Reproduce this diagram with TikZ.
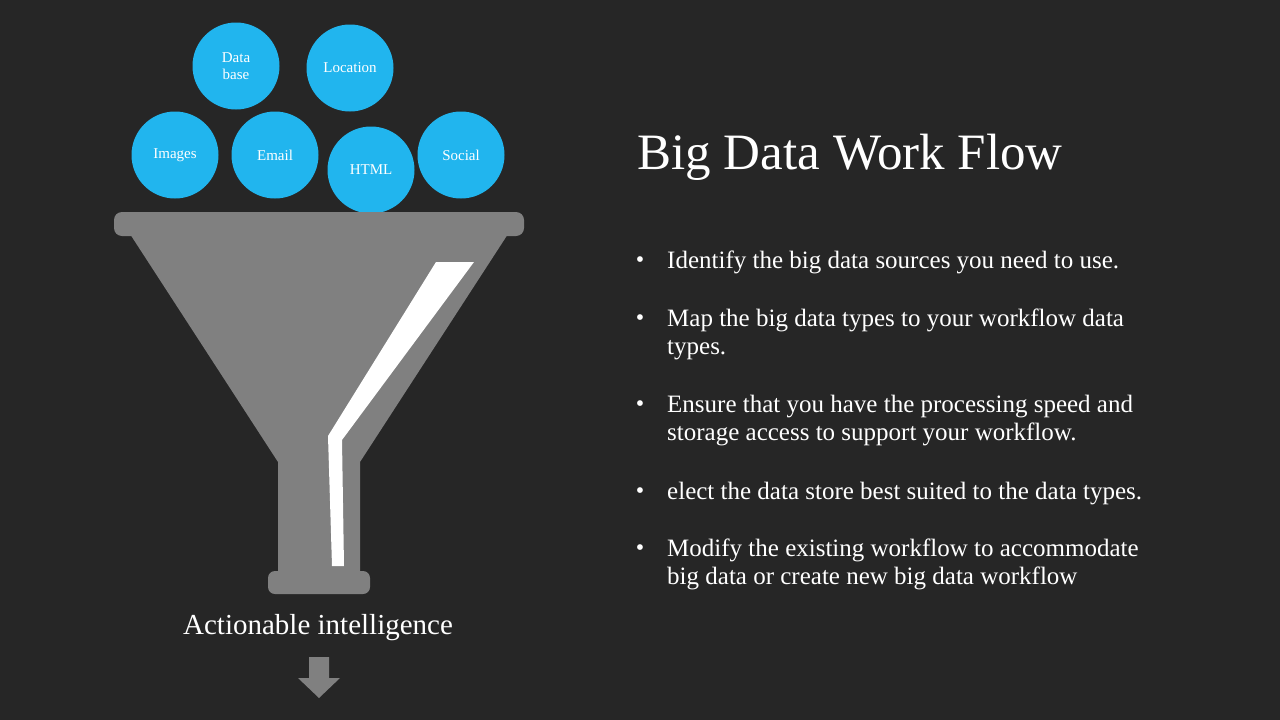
\documentclass[tikz,border=0pt]{standalone}
\usepackage{fontspec}
\setmainfont{Liberation Serif}
\usetikzlibrary{positioning}
\definecolor{bgdark}{HTML}{262626}
\definecolor{srcblue}{HTML}{21B5EE}
\definecolor{funnelgray}{HTML}{808080}
\begin{document}
\begin{tikzpicture}[x=1pt,y=-1pt,
    source/.style={circle, fill=srcblue, minimum size=87pt, inner sep=0pt,
        text=white, align=center, font=\fontsize{15}{17}\selectfont},
    point/.style={text=white, text width=500pt, align=flush left, anchor=north west,
        inner sep=0pt, font=\fontsize{25}{28}\selectfont},
    dotmark/.style={text=white, anchor=north, inner sep=0pt, font=\fontsize{24}{28}\selectfont}
]
% Background
\fill[bgdark] (0,0) rectangle (1280,720);
\useasboundingbox (0,0) rectangle (1280,720);

% Sources
\node[source] (database) at (236,66) {Data\\base};
\node[source] (location) at (350,68) {Location};
\node[source] (images) at (175,155) {Images};
\node[source] (email) at (275,155) {Email};
\node[source] (html) at (371,170) {HTML};
\node[source] (social) at (461,155) {Social};

% Funnel
\fill[funnelgray, rounded corners=8pt] (114,212) rectangle (524,236);
\fill[funnelgray] (130,234) -- (508,234) -- (360,462) -- (360,574) -- (278,574) -- (278,462) -- cycle;
\fill[funnelgray, rounded corners=7pt] (268,571) rectangle (370,594);
\fill[white] (436,262) -- (474,262) -- (342,440) -- (344,566) -- (332,566) -- (328,436) -- cycle;

\node[text=white, font=\fontsize{29}{32}\selectfont] (result) at (318,628) {Actionable intelligence};
\fill[funnelgray] (309,657) -- (329,657) -- (329,678) -- (340,678) -- (319,698) -- (298,678) -- (309,678) -- cycle;

% Text
\node[text=white, anchor=west, font=\fontsize{51}{55}\selectfont] (title) at (634,157) {Big Data Work Flow};
\node[point] (p1) at (667,251) {Identify the big data sources you need to use.};
\node[point] (p2) at (667,309) {Map the big data types to your workflow data types.};
\node[point] (p3) at (667,395) {Ensure that you have the processing speed and storage access to support your workflow.};
\node[point] (p4) at (667,482) {elect the data store best suited to the data types.};
\node[point] (p5) at (667,539) {Modify the existing workflow to accommodate big data or create new big data workflow};
\foreach \p in {p1,p2,p3,p4,p5}
    \node[dotmark] at ([xshift=-27pt,yshift=-5pt]\p.north west) {\textbullet};
\end{tikzpicture}
\end{document}
